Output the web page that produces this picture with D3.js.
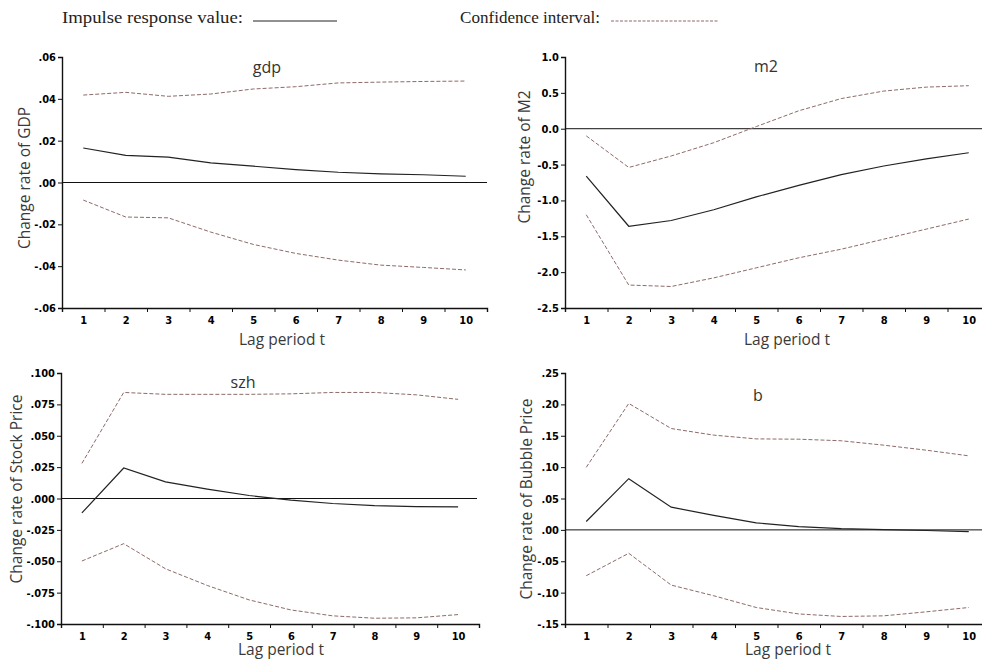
<!DOCTYPE html>
<html>
<head>
<meta charset="utf-8">
<script src="https://cdn.jsdelivr.net/npm/d3@7"></script>
<style>
  body { margin: 0; background: #fff; }
  svg { display: block; }
  .tick text { font-family: "Liberation Sans Narrow", "DejaVu Sans Condensed", "Liberation Sans", sans-serif; font-stretch: condensed; font-weight: 900; font-size: 11px; fill: #000; }
  .lbl { font-family: "Open Sans", "Noto Sans", sans-serif; font-size: 15.5px; fill: #3a3a3a; }
  .ttl { font-family: "Open Sans", "Noto Sans", sans-serif; font-size: 16px; fill: #333; }
  .leg { font-family: "Liberation Serif", serif; font-size: 17px; fill: #222; }
</style>
</head>
<body>
<div id="chart"></div>
<script>
var periods = [1, 2, 3, 4, 5, 6, 7, 8, 9, 10];

// gdp
var gdpIrf   = [0.0165, 0.0130, 0.0121, 0.0094, 0.0078, 0.0062, 0.0049, 0.0041, 0.0037, 0.0030];
var gdpUpper = [0.0418, 0.0431, 0.0412, 0.0423, 0.0447, 0.0458, 0.0476, 0.0480, 0.0483, 0.0485];
var gdpLower = [-0.0084, -0.0165, -0.0169, -0.0237, -0.0296, -0.0339, -0.0371, -0.0395, -0.0406, -0.0418];
var gdpTicks = [0.06, 0.04, 0.02, 0, -0.02, -0.04, -0.06];

// m2
var m2Irf   = [-0.66, -1.36, -1.28, -1.13, -0.95, -0.79, -0.64, -0.52, -0.42, -0.335];
var m2Upper = [-0.10, -0.54, -0.38, -0.195, 0.03, 0.25, 0.42, 0.525, 0.58, 0.60];
var m2Lower = [-1.20, -2.18, -2.20, -2.08, -1.94, -1.80, -1.68, -1.54, -1.40, -1.26];
var m2Ticks = [1.0, 0.5, 0.0, -0.5, -1.0, -1.5, -2.0, -2.5];

// szh
var szhIrf   = [-0.0115, 0.0243, 0.0133, 0.0075, 0.0024, -0.0013, -0.0040, -0.0056, -0.0064, -0.0067];
var szhUpper = [0.0280, 0.0845, 0.0830, 0.0830, 0.0830, 0.0834, 0.0845, 0.0845, 0.0826, 0.0790];
var szhLower = [-0.0498, -0.0360, -0.0560, -0.0693, -0.0808, -0.0888, -0.0935, -0.0954, -0.0951, -0.0925];
var szhTicks = [0.1, 0.075, 0.05, 0.025, 0, -0.025, -0.05, -0.075, -0.1];

// b
var bIrf   = [0.0133, 0.0816, 0.0362, 0.0230, 0.0112, 0.0053, 0.0020, 0.0005, -0.0010, -0.0027];
var bUpper = [0.0997, 0.2015, 0.1615, 0.1510, 0.1450, 0.1445, 0.1420, 0.1350, 0.1270, 0.1180];
var bLower = [-0.0730, -0.0373, -0.0880, -0.1050, -0.1237, -0.1340, -0.1380, -0.1370, -0.1306, -0.1237];
var bTicks = [0.25, 0.2, 0.15, 0.1, 0.05, 0, -0.05, -0.1, -0.15];

var width = 982, height = 659;

var svg = d3.select("#chart").append("svg")
    .attr("width", width)
    .attr("height", height);

// number format like ".06", "-.025", "0.5"
function stataFmt(dec, keepZero) {
    return function (v) {
        var s = Math.abs(v).toFixed(dec);
        if (!keepZero) s = s.replace(/^0/, "");
        return (v < -1e-9 ? "-" : "") + s;
    };
}

var panels = [
    { title: "gdp", ylab: "Change rate of GDP", irf: gdpIrf, up: gdpUpper, lo: gdpLower, ticks: gdpTicks, fmt: stataFmt(2),
      x0: 62, x1: 487, y0: 57, y1: 308, zeroEnd: 487, titleX: 267, titleY: 73, ylabX: 25, ylabY: 178, xlabX: 282, xlabY: 345 },
    { title: "m2", ylab: "Change rate of M2", irf: m2Irf, up: m2Upper, lo: m2Lower, ticks: m2Ticks, fmt: stataFmt(1, true),
      x0: 565, x1: 990, y0: 57, y1: 308, zeroEnd: 982, titleX: 766, titleY: 72, ylabX: 525, ylabY: 157, xlabX: 787, xlabY: 345 },
    { title: "szh", ylab: "Change rate of Stock Price", irf: szhIrf, up: szhUpper, lo: szhLower, ticks: szhTicks, fmt: stataFmt(3),
      x0: 61, x1: 479, y0: 373, y1: 624, zeroEnd: 477, titleX: 243, titleY: 388, ylabX: 17, ylabY: 489, xlabX: 281, xlabY: 655 },
    { title: "b", ylab: "Change rate of Bubble Price", irf: bIrf, up: bUpper, lo: bLower, ticks: bTicks, fmt: stataFmt(2),
      x0: 565, x1: 990, y0: 373, y1: 624, zeroEnd: 982, titleX: 758, titleY: 401, ylabX: 527, ylabY: 499, xlabX: 788, xlabY: 655 }
];

var dashColor = "#8d6b68";

panels.forEach(function (p) {
    var x = d3.scaleLinear().domain([0.5, 10.5]).range([p.x0, p.x1]);
    var y = d3.scaleLinear().domain([d3.min(p.ticks), d3.max(p.ticks)]).range([p.y1, p.y0]);
    var g = svg.append("g");

    // y axis
    var ya = g.append("g")
        .attr("transform", "translate(" + p.x0 + ",0)")
        .call(d3.axisLeft(y).tickValues(p.ticks).tickFormat(p.fmt).tickSize(4).tickPadding(2));
    ya.select(".domain").attr("stroke", "#111").attr("stroke-width", 1.4);
    ya.selectAll(".tick line").attr("stroke", "#111");

    // x axis: tick marks at band edges, labels at centers
    var xa = g.append("g")
        .attr("transform", "translate(0," + p.y1 + ")")
        .call(d3.axisBottom(x).tickValues(d3.range(0.5, 11, 1)).tickFormat("").tickSize(4));
    xa.select(".domain").attr("stroke", "#111").attr("stroke-width", 1.4);
    xa.selectAll(".tick line").attr("stroke", "#111");
    var xl = g.append("g")
        .attr("transform", "translate(0," + p.y1 + ")")
        .call(d3.axisBottom(x).tickValues(periods).tickFormat(d3.format("d")).tickSize(0).tickPadding(8));
    xl.select(".domain").remove();

    // zero line
    g.append("line")
        .attr("x1", p.x0).attr("x2", p.zeroEnd)
        .attr("y1", y(0)).attr("y2", y(0))
        .attr("stroke", "#111").attr("stroke-width", 1);

    var line = d3.line()
        .x(function (d, i) { return x(periods[i]); })
        .y(function (d) { return y(d); });

    [p.up, p.lo].forEach(function (s) {
        g.append("path").datum(s)
            .attr("d", line)
            .attr("fill", "none")
            .attr("stroke", dashColor)
            .attr("stroke-width", 1)
            .attr("stroke-dasharray", "4,2");
    });
    g.append("path").datum(p.irf)
        .attr("d", line)
        .attr("fill", "none")
        .attr("stroke", "#222")
        .attr("stroke-width", 1.2);

    g.append("text").attr("class", "ttl")
        .attr("x", p.titleX).attr("y", p.titleY)
        .attr("text-anchor", "middle")
        .text(p.title);

    g.append("text").attr("class", "lbl")
        .attr("transform", "translate(" + p.ylabX + "," + p.ylabY + ") rotate(-90)")
        .attr("text-anchor", "middle")
        .attr("dy", "0.35em")
        .text(p.ylab);

    g.append("text").attr("class", "lbl")
        .attr("x", p.xlabX).attr("y", p.xlabY)
        .attr("text-anchor", "middle")
        .text("Lag period t");
});

// legend
var leg = svg.append("g");
leg.append("text").attr("class", "leg").attr("x", 62).attr("y", 23)
    .attr("textLength", 181).attr("lengthAdjust", "spacingAndGlyphs")
    .text("Impulse response value:");
leg.append("line").attr("x1", 253).attr("x2", 337).attr("y1", 21).attr("y2", 21)
    .attr("stroke", "#222").attr("stroke-width", 1);
leg.append("text").attr("class", "leg").attr("x", 460).attr("y", 23)
    .attr("textLength", 140).attr("lengthAdjust", "spacingAndGlyphs")
    .text("Confidence interval:");
leg.append("line").attr("x1", 611).attr("x2", 718).attr("y1", 21).attr("y2", 21)
    .attr("stroke", dashColor).attr("stroke-width", 1).attr("stroke-dasharray", "3,1.5");
</script>
</body>
</html>
